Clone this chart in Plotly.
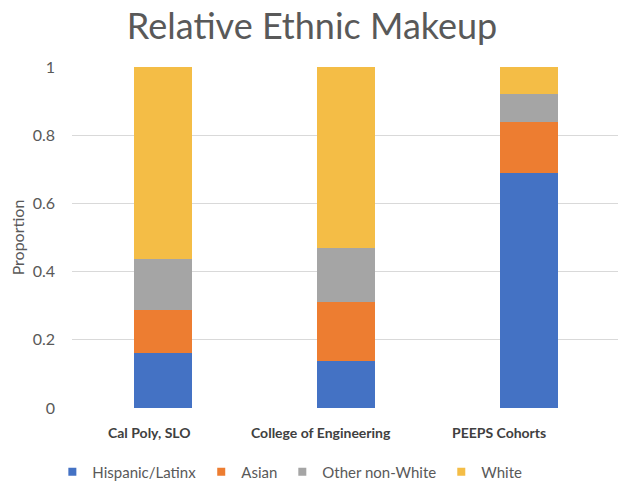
import plotly.graph_objects as go

categories = ["Cal Poly, SLO", "College of Engineering", "PEEPS Cohorts"]
hispanic = [0.161, 0.139, 0.689]
asian = [0.127, 0.173, 0.151]
other = [0.149, 0.158, 0.081]
white = [0.563, 0.530, 0.079]
label_shift = [-14, -25, -30]

series = [
    ("Hispanic/Latinx", hispanic, "#4472C4"),
    ("Asian", asian, "#ED7D31"),
    ("Other non-White", other, "#A5A5A5"),
    ("White", white, "#F4BD46"),
]

fig = go.Figure()
for name, vals, color in series:
    fig.add_trace(go.Bar(
        x=categories, y=vals, name=name, showlegend=False,
        marker=dict(color=color, line=dict(width=0)),
        width=0.317,
    ))
for name, vals, color in series:
    fig.add_trace(go.Scatter(
        x=[None], y=[None], mode="markers", name=name,
        marker=dict(symbol="square", size=8, color=color),
    ))

for cat, sh in zip(categories, label_shift):
    fig.add_annotation(
        x=cat, y=-0.073, xref="x", yref="paper", text=f"<b>{cat}</b>",
        showarrow=False, xanchor="center", yanchor="middle", xshift=sh,
        font=dict(size=14, color="#404040", family="Lato, sans-serif"),
    )

fig.update_layout(
    barmode="stack",
    width=618, height=483,
    paper_bgcolor="white", plot_bgcolor="white",
    margin=dict(l=72, r=0, t=67, b=75, autoexpand=False),
    font=dict(family="Lato, Open Sans, sans-serif", color="#595959"),
    title=dict(text="Relative Ethnic Makeup", x=0.505, xanchor="center",
               y=0.946, yanchor="middle",
               font=dict(size=36, color="#595959", family="Lato, sans-serif")),
    xaxis=dict(
        type="category", range=[-0.5, 2.484],
        showgrid=False, showline=False, ticks="", showticklabels=False,
    ),
    yaxis=dict(
        range=[0, 1], tickvals=[0, 0.2, 0.4, 0.6, 0.8, 1],
        ticktext=["0", "0.2", "0.4", "0.6", "0.8", "1"],
        showgrid=True, gridcolor="#D9D9D9", gridwidth=1,
        zeroline=False, showline=False, ticks="",
        ticklabelstandoff=16,
        tickfont=dict(size=16, color="#595959"),
        title=dict(text="Proportion", font=dict(size=16, color="#595959"), standoff=4),
    ),
    legend=dict(orientation="h", x=0.399, xanchor="center", y=-0.188, yanchor="middle",
                font=dict(size=15, color="#595959"), traceorder="normal",
                itemwidth=30),
    bargap=0,
)

fig.write_html("out.html")
